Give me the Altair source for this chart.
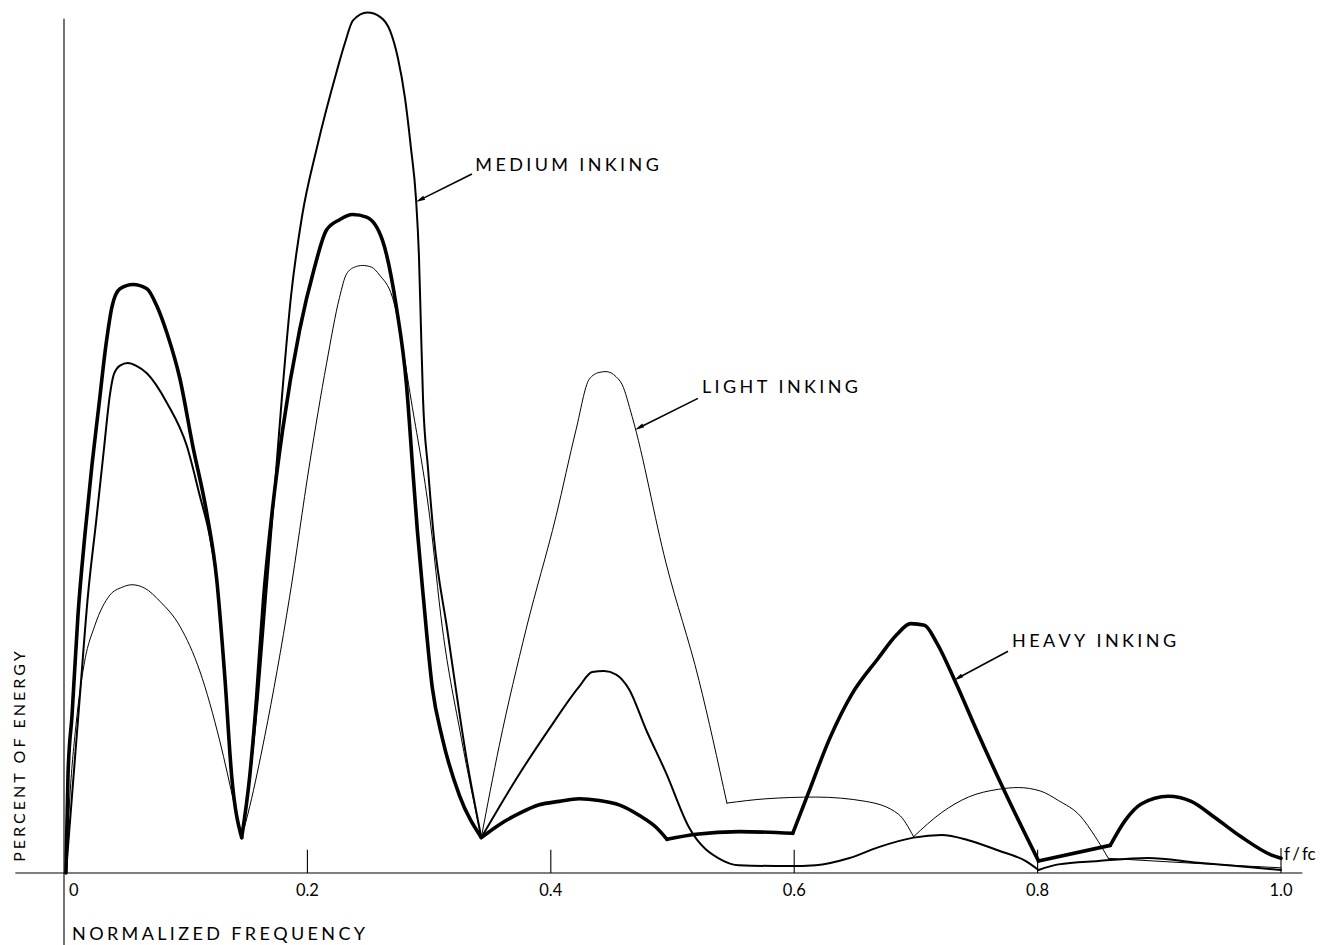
import altair as alt
import pandas as pd

# ---------------- data (normalized frequency f/fc, percent of energy) -------------
heavy_x = [0.0016, 0.0033, 0.0066, 0.0115, 0.0172, 0.0230, 0.0287, 0.0345, 0.0394, 0.0460,
           0.0567, 0.0681, 0.0763, 0.0845, 0.0952, 0.1058, 0.1173, 0.1255, 0.1321, 0.1378,
           0.1460, 0.1526, 0.1583, 0.1641, 0.1706, 0.1797, 0.1936, 0.2059, 0.2157, 0.2264,
           0.2371, 0.2486, 0.2617, 0.2732, 0.2814, 0.2863, 0.2904, 0.2953, 0.3027, 0.3109,
           0.3249, 0.3429, 0.3577, 0.3741, 0.3905, 0.4069, 0.4233, 0.4397, 0.4561, 0.4725,
           0.4865, 0.4955, 0.5193, 0.5546, 0.5988, 0.6112, 0.6292, 0.6473, 0.6686, 0.6842,
           0.6957, 0.7071, 0.7170, 0.7326, 0.7506, 0.7744, 0.8007, 0.8597, 0.8720, 0.8851,
           0.9073, 0.9262, 0.9459, 0.9672, 0.9918, 1.0]
heavy_y = [0.0, 11.4, 18.3, 29.9, 39.2, 47.3, 54.2, 61.2, 65.6, 67.7,
           68.2, 67.7, 65.7, 62.6, 57.3, 49.5, 41.7, 34.0, 22.8, 11.2,
           4.1, 11.2, 20.4, 32.0, 41.3, 51.4, 62.9, 70.2, 74.5, 75.7,
           76.3, 76.0, 73.3, 65.5, 56.6, 47.3, 39.6, 31.9, 21.4, 15.6,
           9.0, 4.1, 5.6, 6.9, 7.9, 8.3, 8.6, 8.4, 7.9, 6.7,
           5.3, 3.9, 4.5, 4.8, 4.6, 9.1, 15.6, 20.7, 24.8, 27.6,
           28.9, 28.7, 26.7, 22.1, 16.3, 9.0, 1.4, 3.2, 6.1, 8.0,
           8.9, 8.3, 6.4, 4.2, 2.1, 1.7]
heavy_corners = [0.1460, 0.3429, 0.4955, 0.5988, 0.8007, 0.8597]

medium_x = [0.0016, 0.0066, 0.0131, 0.0197, 0.0263, 0.0328, 0.0378, 0.0410, 0.0460, 0.0525,
            0.0591, 0.0681, 0.0845, 0.1009, 0.1116, 0.1198, 0.1255, 0.1321, 0.1378, 0.1460,
            0.1526, 0.1594, 0.1660, 0.1726, 0.1791, 0.1865, 0.1956, 0.2079, 0.2243, 0.2309,
            0.2375, 0.2494, 0.2597, 0.2679, 0.2744, 0.2802, 0.2851, 0.2892, 0.2917, 0.2933,
            0.2950, 0.2991, 0.3040, 0.3147, 0.3311, 0.3429, 0.3716, 0.3987, 0.4233, 0.4340,
            0.4438, 0.4537, 0.4643, 0.4783, 0.4947, 0.5135, 0.5406, 0.5545, 0.5955, 0.6177,
            0.6448, 0.6694, 0.6981, 0.7211, 0.7432, 0.7678, 0.7900, 0.8007, 0.8171, 0.8499,
            0.8909, 0.9319, 0.9729, 1.0]
medium_y = [0.0, 9.0, 20.6, 32.2, 40.6, 49.1, 55.5, 57.8, 58.8, 59.1,
            58.8, 57.9, 54.5, 49.5, 43.7, 39.0, 33.9, 22.6, 11.2, 4.1,
            11.2, 20.4, 32.0, 43.6, 55.2, 66.8, 76.1, 84.1, 93.0, 96.2,
            98.8, 99.7, 99.2, 97.6, 94.4, 89.8, 84.0, 78.2, 71.3, 63.2,
            55.0, 46.9, 38.8, 28.4, 13.0, 4.1, 10.9, 16.7, 21.6, 23.3,
            23.4, 23.0, 21.3, 16.6, 11.6, 5.3, 1.5, 0.9, 0.8, 0.9,
            1.7, 3.0, 4.1, 4.4, 3.8, 2.6, 1.4, 0.35, 1.0, 1.4,
            1.75, 1.2, 0.7, 0.35]
medium_corners = [0.1460, 0.3429, 0.8007]

light_x = [0.0016, 0.0049, 0.0098, 0.0164, 0.0254, 0.0377, 0.0476, 0.0558, 0.0664, 0.0787,
           0.0952, 0.1116, 0.1280, 0.1403, 0.1460, 0.1526, 0.1649, 0.1854, 0.2018, 0.2157,
           0.2264, 0.2321, 0.2387, 0.2453, 0.2527, 0.2592, 0.2699, 0.2863, 0.3003, 0.3109,
           0.3265, 0.3429, 0.3577, 0.3798, 0.4044, 0.4208, 0.4315, 0.4397, 0.4454, 0.4537,
           0.4586, 0.4668, 0.4947, 0.5218, 0.5447, 0.5767, 0.6177, 0.6587, 0.6858, 0.6981,
           0.7211, 0.7432, 0.7678, 0.7842, 0.8023, 0.8171, 0.8351, 0.8474, 0.8581, 0.9319,
           1.0]
light_y = [0.0, 9.0, 17.1, 24.1, 28.7, 32.2, 33.1, 33.4, 33.0, 31.5,
           28.6, 23.4, 15.3, 7.7, 4.1, 7.7, 15.8, 32.0, 47.4, 59.0,
           66.7, 69.4, 70.2, 70.4, 70.2, 69.3, 66.7, 53.9, 41.5, 28.4,
           15.6, 4.1, 14.8, 28.3, 41.4, 51.4, 57.2, 58.0, 58.1, 57.5,
           56.6, 52.9, 35.9, 22.3, 8.1, 8.6, 8.8, 8.3, 6.8, 4.2,
           7.0, 8.8, 9.7, 9.9, 9.5, 8.4, 6.6, 4.2, 1.7, 1.1,
           0.6]
light_corners = [0.1460, 0.3429, 0.5447, 0.6981, 0.8581]

tick_values = [0.2, 0.4, 0.6, 0.8, 1.0]
tick_labels = ["0", "0.2", "0.4", "0.6", "0.8", "1.0"]
tick_label_pos = [0.0, 0.2, 0.4, 0.6, 0.8, 1.0]

label_texts = ["MEDIUM INKING", "LIGHT INKING", "HEAVY INKING"]
label_x = [0.338, 0.5242, 0.779]
label_y = [81.9, 56.2, 26.8]
arrow_tail_x = [0.3352, 0.5209, 0.7757]
arrow_tail_y = [81.0, 55.0, 25.7]
arrow_head_x = [0.2925, 0.4725, 0.7346]
arrow_head_y = [78.0, 51.6, 22.6]
arrow_angle = [243.4, 242.2, 239.2]


def spaced(s, gap="\u2009\u200a", word="\u2002\u2009"):
    words = s.split(" ")
    return word.join(gap.join(list(w)) for w in words)


FONT = "Lato"
W, H = 1217, 863
xs = alt.Scale(domain=[0, 1], nice=False, zero=False)
ys = alt.Scale(domain=[0, 100], nice=False, zero=False)
X = lambda f: alt.X(f, scale=xs, axis=None)
Y = lambda f: alt.Y(f, scale=ys, axis=None)


def frame(xs_, ys_, corners, name):
    """Split a curve into smooth pieces at its sharp corners (corner shared by both pieces)."""
    rows = []
    seg = 0
    for i, (a, b) in enumerate(zip(xs_, ys_)):
        rows.append({"f": a, "e": b, "seg": seg, "order": i})
        if a in corners:
            seg += 1
            rows.append({"f": a, "e": b, "seg": seg, "order": i})
    df = pd.DataFrame(rows)
    df["series"] = name
    return df


def curve(df, width):
    return alt.Chart(df).mark_line(
        color="black", strokeWidth=width, interpolate="monotone",
        strokeJoin="round", strokeCap="round", clip=False
    ).encode(x=X("f:Q"), y=Y("e:Q"), detail="seg:N", order="order:Q")


light = curve(frame(light_x, light_y, light_corners, "Light inking"), 1.0)
medium = curve(frame(medium_x, medium_y, medium_corners, "Medium inking"), 2.0)
heavy = curve(frame(heavy_x, heavy_y, heavy_corners, "Heavy inking"), 3.6)

# axes drawn as rules
axes_df = pd.DataFrame({
    "x": [-0.04, 0.0], "x2": [1.0175, 0.0],
    "y": [0.0, 99.0], "y2": [0.0, -8.4],
})
axes = alt.Chart(axes_df).mark_rule(color="black", strokeWidth=1.1).encode(
    x=X("x:Q"), x2="x2:Q", y=Y("y:Q"), y2="y2:Q",
)

ticks_df = pd.DataFrame({"x": tick_values, "y": [0.0] * 5, "y2": [2.7, 2.7, 2.7, 2.7, 2.9]})
ticks = alt.Chart(ticks_df).mark_rule(color="black", strokeWidth=1.1).encode(
    x=X("x:Q"), y=Y("y:Q"), y2="y2:Q",
)

tl_df = pd.DataFrame({"x": tick_label_pos, "t": tick_labels, "y": [-2.1] * 6})
tick_text = alt.Chart(tl_df).transform_filter("datum.x > 0").mark_text(
    font=FONT, fontSize=16.5, color="black", baseline="middle", align="center"
).encode(x=X("x:Q"), y=Y("y:Q"), text="t:N")
zero_text = alt.Chart(tl_df).transform_filter("datum.x == 0").mark_text(
    font=FONT, fontSize=16.5, color="black", baseline="middle", align="left", dx=5
).encode(x=X("x:Q"), y=Y("y:Q"), text="t:N")

titles_df = pd.DataFrame({"x": [0.0066], "y": [-7.2], "t": [spaced("NORMALIZED FREQUENCY")]})
xtitle = alt.Chart(titles_df).mark_text(
    font=FONT, fontSize=18, color="black", align="left", baseline="middle"
).encode(x=X("x:Q"), y=Y("y:Q"), text="t:N")

ytitle_df = pd.DataFrame({"x": [-0.0365], "y": [13.5], "t": [spaced("PERCENT OF ENERGY")]})
ytitle = alt.Chart(ytitle_df).mark_text(
    font=FONT, fontSize=16, color="black", align="center", baseline="middle", angle=270
).encode(x=X("x:Q"), y=Y("y:Q"), text="t:N")

ffc_df = pd.DataFrame({"x": [1.0025], "y": [2.1], "t": ["f\u2009/\u2009fc"]})
ffc = alt.Chart(ffc_df).mark_text(
    font=FONT, fontSize=17, color="black", align="left", baseline="middle"
).encode(x=X("x:Q"), y=Y("y:Q"), text="t:N")

lab_df = pd.DataFrame({"x": label_x, "y": label_y, "t": [spaced(s) for s in label_texts]})
labels = alt.Chart(lab_df).mark_text(
    font=FONT, fontSize=18, color="black", align="left", baseline="middle"
).encode(x=X("x:Q"), y=Y("y:Q"), text="t:N")

arr_df = pd.DataFrame({
    "x": arrow_tail_x, "y": arrow_tail_y, "x2": arrow_head_x, "y2": arrow_head_y,
    "a": arrow_angle,
})
arrow_lines = alt.Chart(arr_df).mark_rule(color="black", strokeWidth=1.6).encode(
    x=X("x:Q"), x2="x2:Q", y=Y("y:Q"), y2="y2:Q",
)
arrow_heads = alt.Chart(arr_df).mark_point(
    shape="M0,-1L0.45,1L-0.45,1Z", filled=True, color="black", size=90, opacity=1
).encode(
    x=X("x2:Q"), y=Y("y2:Q"),
    angle=alt.Angle("a:Q", scale=None),
)

chart = alt.layer(
    axes, ticks, light, medium, heavy, arrow_lines, arrow_heads,
    tick_text, zero_text, xtitle, ytitle, ffc, labels,
).properties(
    width=W, height=H,
    padding={"left": 64, "top": 10, "right": 43, "bottom": 72},
    autosize=alt.AutoSizeParams(type="none"),
    background="white",
).configure_view(stroke=None)

chart.save("out.html", embed_options={"renderer": "svg", "actions": False})
